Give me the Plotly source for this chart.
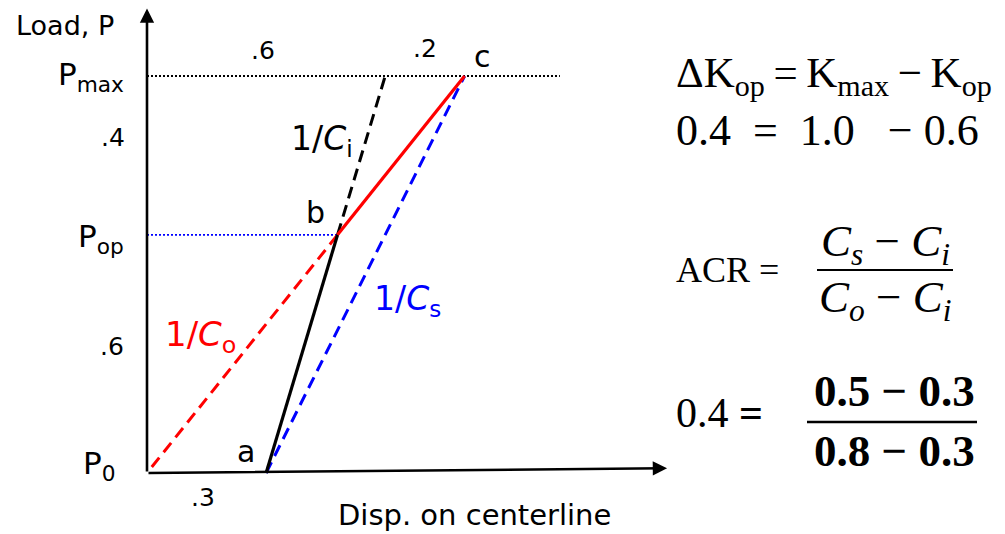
import plotly.graph_objects as go

# ---------------- data (normalised load P/Pmax and displacement) ----------------
load_names = ["P0", "Pop", "Pmax"]
load_values = [0.0, 0.6, 1.0]            # P0, Pop, Pmax
compliance_names = ["Co", "Ci", "Cs"]
compliance_values = [0.8, 0.3, 0.5]      # Co, Ci, Cs
offset_a = 0.3                           # displacement of point a
acr_numbers = [0.5, 0.3, 0.8, 0.3]       # Cs, Ci, Co, Ci
dk_numbers = [0.4, 1.0, 0.6]             # dK_op, K_max, K_op

P0, Pop, Pmax = load_values
Co, Ci, Cs = compliance_values

# key points
a = (offset_a, P0)
b = (offset_a + Ci * Pop, Pop)
c = (offset_a + Cs * Pmax, Pmax)
ci_top = (offset_a + Ci * Pmax, Pmax)

W, H = 1005, 534
SANS = "DejaVu Sans"
SERIF = "Liberation Serif"

fig = go.Figure()

def seg(p, q, color, width, dash):
    fig.add_trace(go.Scatter(x=[p[0], q[0]], y=[p[1], q[1]], mode="lines",
                             line=dict(color=color, width=width, dash=dash),
                             hoverinfo="skip", showlegend=False))

# dotted reference lines
seg((0, Pmax), (1.04, Pmax), "black", 1.8, "2px,2px")
seg((0, Pop), b, "blue", 1.8, "2px,2px")
# 1/Co (red dashed) from origin to b
seg((0.012, 0.015), b, "red", 3, "12px,7px")
# 1/Cs (blue dashed) from a to c
seg(a, c, "blue", 3, "12px,7px")
# 1/Ci (black dashed) from b to Pmax
seg(b, ci_top, "black", 3, "12px,7px")
# loading path a -> b (black solid), b -> c (red solid)
seg(a, b, "black", 3.2, "solid")
seg(b, c, "red", 3.2, "solid")

# axes with arrows
fig.add_annotation(x=0, y=1.17, ax=0, ay=0, xref="x", yref="y", axref="x", ayref="y",
                   text="", showarrow=True, arrowhead=2, arrowsize=1.1, arrowwidth=2.6,
                   arrowcolor="black", standoff=0)
fig.add_annotation(x=1.31, y=0.012, ax=0, ay=0, xref="x", yref="y", axref="x", ayref="y",
                   text="", showarrow=True, arrowhead=2, arrowsize=1.1, arrowwidth=2.6,
                   arrowcolor="black", standoff=0)

def ann(text, x, y, size, color="black", family=SANS, xanchor="center", yanchor="middle"):
    fig.add_annotation(text=text, x=x / W, y=1 - y / H, xref="paper", yref="paper",
                       showarrow=False, xanchor=xanchor, yanchor=yanchor,
                       font=dict(family=family, size=size, color=color))

def dlabel(text, pt, dx, dy, size, color="black"):
    fig.add_annotation(text=text, x=pt[0], y=pt[1], xref="x", yref="y", showarrow=False,
                       xshift=dx, yshift=dy, font=dict(family=SANS, size=size, color=color))

def frac(v):
    return ("%.1f" % v).lstrip("0")

# left-side labels
ann("Load, P", 65, 25, 27)
ann("P<sub>max</sub>", 126, 76, 31, xanchor="right")
ann("P<sub>op</sub>", 126, 238, 31, xanchor="right")
ann("P<sub>0</sub>", 118, 465, 31, xanchor="right")
ann(frac(Pmax - Pop), 113, 138, 25)
ann(frac(Pop), 112, 346, 25)
ann(frac(offset_a), 203, 497, 25)
ann(frac(ci_top[0]), 263, 50, 25)
ann(frac(c[0] - ci_top[0]), 425, 48, 25)

dlabel("a", a, -20, 22, 30)
dlabel("b", b, -22, 22, 30)
dlabel("c", c, 18, 20, 30)

ann("1/<i>C</i><sub>i</sub>", 289, 140, 33, xanchor="left")
ann("1/<i>C</i><sub>o</sub>", 163, 336, 34, color="red", xanchor="left")
ann("1/<i>C</i><sub>s</sub>", 372, 300, 33, color="blue", xanchor="left")
ann("Disp. on centerline", 474, 515, 29)

# right-side equations
ann("ΔK<sub>op</sub>\u2009=\u2009K<sub>max</sub>\u2009−\u2009K<sub>op</sub>", 674, 76, 43,
    family=SERIF, xanchor="left")
ann("%.1f  =  %.1f   − %.1f" % tuple(dk_numbers), 674, 130, 44, family=SERIF, xanchor="left")
ann("ACR =", 674, 270, 36, family=SERIF, xanchor="left")
ann("<i>C<sub>s</sub></i> − <i>C<sub>i</sub></i>", 885, 244, 45, family=SERIF)
ann("<i>C<sub>o</sub></i> − <i>C<sub>i</sub></i>", 885, 300, 45, family=SERIF)
fig.add_shape(type="line", xref="paper", yref="paper", x0=817 / W, x1=953 / W,
              y0=1 - 270 / H, y1=1 - 270 / H, line=dict(color="black", width=2))
ann("%.1f <b>=</b>" % dk_numbers[0], 674, 413, 42, family=SERIF, xanchor="left")
ann("<b>%.1f − %.1f</b>" % (acr_numbers[0], acr_numbers[1]), 894, 391, 45, family=SERIF)
ann("<b>%.1f − %.1f</b>" % (acr_numbers[2], acr_numbers[3]), 894, 451, 45, family=SERIF)
fig.add_shape(type="line", xref="paper", yref="paper", x0=807 / W, x1=977 / W,
              y0=1 - 422 / H, y1=1 - 422 / H, line=dict(color="black", width=2.5))

sx = 397.0
fig.update_layout(
    width=W, height=H, margin=dict(l=0, r=0, t=0, b=0),
    paper_bgcolor="white", plot_bgcolor="white", showlegend=False,
    xaxis=dict(range=[-147 / sx, (W - 147) / sx], visible=False, fixedrange=True),
    yaxis=dict(range=[-(H - 473) / sx, 473 / sx], visible=False, fixedrange=True),
)

fig.write_html("out.html")
